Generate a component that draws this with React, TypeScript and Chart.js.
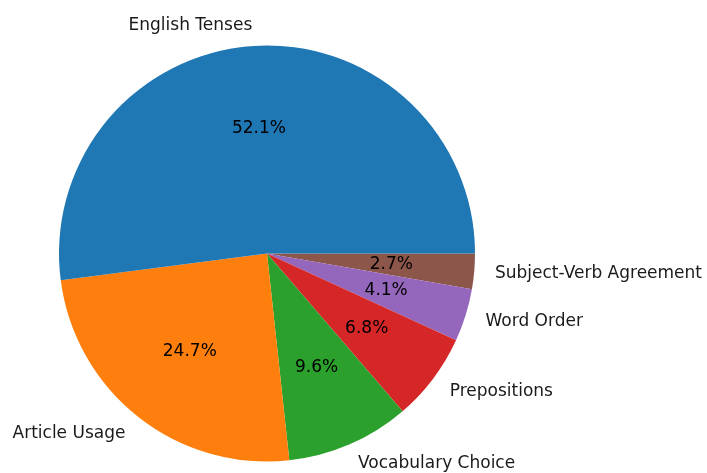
import React, { useEffect, useRef } from "react";
import { Chart, registerables } from "chart.js";

Chart.register(...registerables);

// Categories in matplotlib order (counter-clockwise from 3 o'clock)
const categories = [
  "English Tenses",
  "Article Usage",
  "Vocabulary Choice",
  "Prepositions",
  "Word Order",
  "Subject-Verb Agreement",
];
const counts = [38, 18, 7, 5, 3, 2];
const colors = ["#1f77b4", "#ff7f0e", "#2ca02c", "#d62728", "#9467bd", "#8c564b"];

const FONT = '"DejaVu Sans", sans-serif';

const labelPlugin = {
  id: "pieLabels",
  afterDatasetsDraw(chart: any) {
    const ctx = chart.ctx;
    const meta = chart.getDatasetMeta(0);
    const total = counts.reduce((a, b) => a + b, 0);
    const rev = chart.data.labels as string[];
    const vals = chart.data.datasets[0].data as number[];
    ctx.save();
    ctx.font = `17px ${FONT}`;
    ctx.textBaseline = "middle";
    meta.data.forEach((arc: any, i: number) => {
      const p = arc.getProps(["x", "y", "startAngle", "endAngle", "outerRadius"], true);
      const mid = (p.startAngle + p.endAngle) / 2;
      const cx = Math.cos(mid);
      const cy = Math.sin(mid);
      // outer label
      const lx = p.x + cx * p.outerRadius * 1.1;
      const ly = p.y + cy * p.outerRadius * 1.1;
      ctx.fillStyle = "#1a1a1a";
      ctx.textAlign = cx > 0.001 ? "left" : cx < -0.001 ? "right" : "center";
      ctx.fillText(rev[i], lx, ly);
      // percentage
      const px = p.x + cx * p.outerRadius * 0.6;
      const py = p.y + cy * p.outerRadius * 0.6;
      ctx.textAlign = "center";
      ctx.fillStyle = "#000000";
      ctx.fillText(((vals[i] / total) * 100).toFixed(1) + "%", px, py);
    });
    ctx.restore();
  },
};

export default function App() {
  const ref = useRef<HTMLCanvasElement>(null);
  useEffect(() => {
    if (!ref.current) return;
    // reversed order + rotation 90 reproduces matplotlib's counter-clockwise layout
    const labels = [...categories].reverse();
    const data = [...counts].reverse();
    const bg = [...colors].reverse();
    const chart = new Chart(ref.current, {
      type: "pie",
      data: {
        labels,
        datasets: [{ data, backgroundColor: bg, borderWidth: 0 }],
      },
      options: {
        responsive: false,
        animation: false,
        rotation: 90,
        layout: { padding: { left: 59, right: 232, top: 45, bottom: 11 } },
        plugins: { legend: { display: false }, tooltip: { enabled: false } },
      },
      plugins: [labelPlugin],
    });
    return () => chart.destroy();
  }, []);
  return (
    <div style={{ position: "fixed", left: 0, top: 0, width: 707, height: 473, background: "#fff" }}>
      <canvas ref={ref} width={707} height={473} style={{ display: "block" }} />
    </div>
  );
}
